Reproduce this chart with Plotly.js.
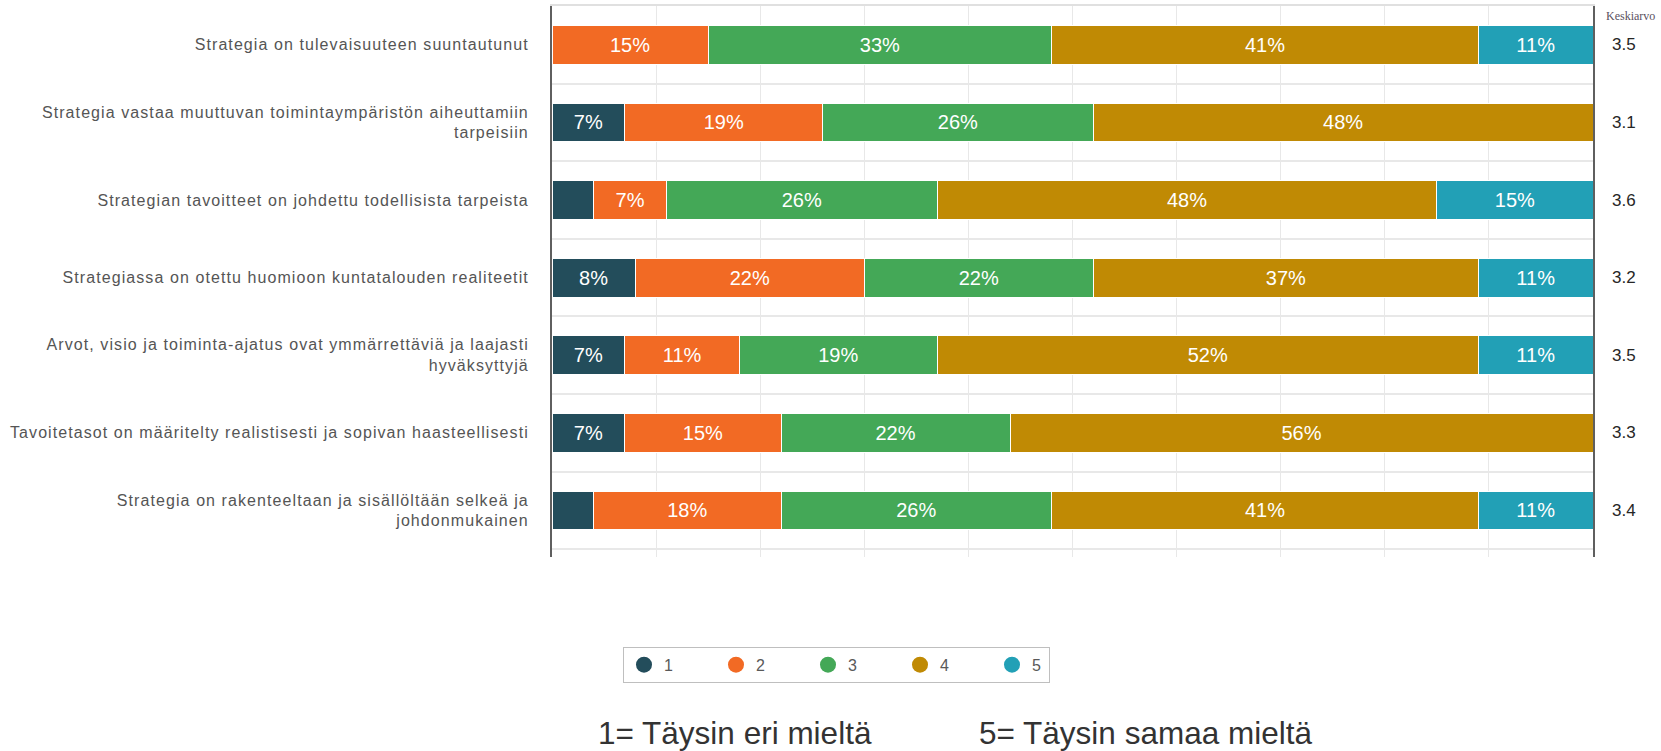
<!DOCTYPE html>
<html>
<head>
<meta charset="utf-8">
<script src="https://cdn.plot.ly/plotly-3.0.1.min.js"></script>
<style>
  html, body { margin: 0; padding: 0; background: #ffffff; }
  #chart { width: 1661px; height: 751px; }
  #chart .yaxislayer-above text { letter-spacing: 1.08px; }
</style>
</head>
<body>
<div id="chart"></div>
<script>
// ---- data ----
const categories = [
  "Strategia on tulevaisuuteen suuntautunut",
  "Strategia vastaa muuttuvan toimintaympäristön aiheuttamiin<br>tarpeisiin",
  "Strategian tavoitteet on johdettu todellisista tarpeista",
  "Strategiassa on otettu huomioon kuntatalouden realiteetit",
  "Arvot, visio ja toiminta-ajatus ovat ymmärrettäviä ja laajasti<br>hyväksyttyjä",
  "Tavoitetasot on määritelty realistisesti ja sopivan haasteellisesti",
  "Strategia on rakenteeltaan ja sisällöltään selkeä ja<br>johdonmukainen"
];
const seriesNames = ["1", "2", "3", "4", "5"];
const s1 = [0, 7, 4, 8, 7, 7, 4];
const s2 = [15, 19, 7, 22, 11, 15, 18];
const s3 = [33, 26, 26, 22, 19, 22, 26];
const s4 = [41, 48, 48, 37, 52, 56, 41];
const s5 = [11, 0, 15, 11, 11, 0, 11];
const averages = [3.5, 3.1, 3.6, 3.2, 3.5, 3.3, 3.4];
const averageTitle = "Keskiarvo";
const scaleNoteLow = "1= Täysin eri mieltä";
const scaleNoteHigh = "5= Täysin samaa mieltä";

// ---- style ----
const colors = ["#234d5b", "#f26a24", "#44a857", "#c08a04", "#22a0b6"];
const legendEntryWidths = [47, 47, 47, 47, 12];
const allSeries = [s1, s2, s3, s4, s5];
const idx = categories.map((_, i) => i);
const FONT = "Liberation Sans, Arial, sans-serif";

const traces = [];
allSeries.forEach((vals, k) => {
  traces.push({
    type: "bar",
    orientation: "h",
    name: seriesNames[k],
    y: idx,
    x: vals,
    text: vals.map(v => (v >= 5 ? v + "%" : "")),
    textposition: "inside",
    insidetextanchor: "middle",
    textangle: 0,
    textfont: { family: FONT, size: 20, color: "#ffffff" },
    marker: { color: colors[k], line: { color: "#ffffff", width: 1 } },
    showlegend: false,
    hoverinfo: "skip"
  });
});
// legend-only circle markers
seriesNames.forEach((n, k) => {
  traces.push({
    type: "scatter",
    mode: "markers",
    name: n,
    x: [null],
    y: [null],
    marker: { color: colors[k], size: 16, symbol: "circle" },
    legendwidth: legendEntryWidths[k],
    showlegend: true,
    hoverinfo: "skip"
  });
});

const annotations = averages.map((a, i) => ({
  xref: "paper", yref: "y",
  x: 1.016, y: i,
  xanchor: "left", yanchor: "middle",
  text: a.toFixed(1),
  showarrow: false,
  font: { family: FONT, size: 17, color: "#262626" }
}));
annotations.push({
  xref: "paper", yref: "paper",
  x: 1.011, y: 0.982,
  xanchor: "left", yanchor: "middle",
  text: averageTitle,
  showarrow: false,
  font: { family: "Liberation Serif, Times New Roman, serif", size: 12, color: "#5a5060" }
});
annotations.push({
  xref: "paper", yref: "paper",
  x: 0.0425, y: -0.319,
  xanchor: "left", yanchor: "middle",
  text: scaleNoteLow,
  showarrow: false,
  font: { family: FONT, size: 31.5, color: "#333333" }
});
annotations.push({
  xref: "paper", yref: "paper",
  x: 0.408, y: -0.319,
  xanchor: "left", yanchor: "middle",
  text: scaleNoteHigh,
  showarrow: false,
  font: { family: FONT, size: 31.5, color: "#333333" }
});

const layout = {
  width: 1661,
  height: 751,
  margin: { l: 552, r: 68, t: 6, b: 194, pad: 0 },
  paper_bgcolor: "#ffffff",
  plot_bgcolor: "#ffffff",
  barmode: "stack",
  bargap: 0.5,
  showlegend: true,
  font: { family: FONT, color: "#595959" },
  xaxis: {
    range: [0, 100],
    side: "top",
    showticklabels: false,
    ticks: "",
    dtick: 10,
    showgrid: true,
    gridcolor: "#e8e8e8",
    gridwidth: 1,
    zeroline: false,
    showline: true,
    linecolor: "#e0e0e0",
    linewidth: 2,
    mirror: false,
    fixedrange: true
  },
  yaxis: {
    range: [6.6, -0.5],
    autorange: false,
    tickmode: "array",
    tickvals: idx,
    ticktext: categories,
    tickfont: { family: FONT, size: 16, color: "#555555" },
    ticks: "",
    ticklabelstandoff: 18,
    showgrid: false,
    zeroline: false,
    showline: true,
    linecolor: "#5f5f5f",
    linewidth: 2,
    mirror: true,
    minor: {
      tickmode: "linear",
      tick0: 0.5,
      dtick: 1,
      showgrid: true,
      gridcolor: "#e8e8e8",
      gridwidth: 2,
      ticks: ""
    },
    fixedrange: true
  },
  legend: {
    orientation: "h",
    x: 0.0682, xanchor: "left",
    y: -0.163, yanchor: "top",
    bordercolor: "#bfbfbf",
    borderwidth: 1,
    bgcolor: "#ffffff",
    font: { family: FONT, size: 16, color: "#595959" },
    entrywidth: 47,
    entrywidthmode: "pixels",
    traceorder: "normal"
  },
  annotations: annotations
};

Plotly.newPlot("chart", traces, layout, { displayModeBar: false, staticPlot: true });
</script>
</body>
</html>
